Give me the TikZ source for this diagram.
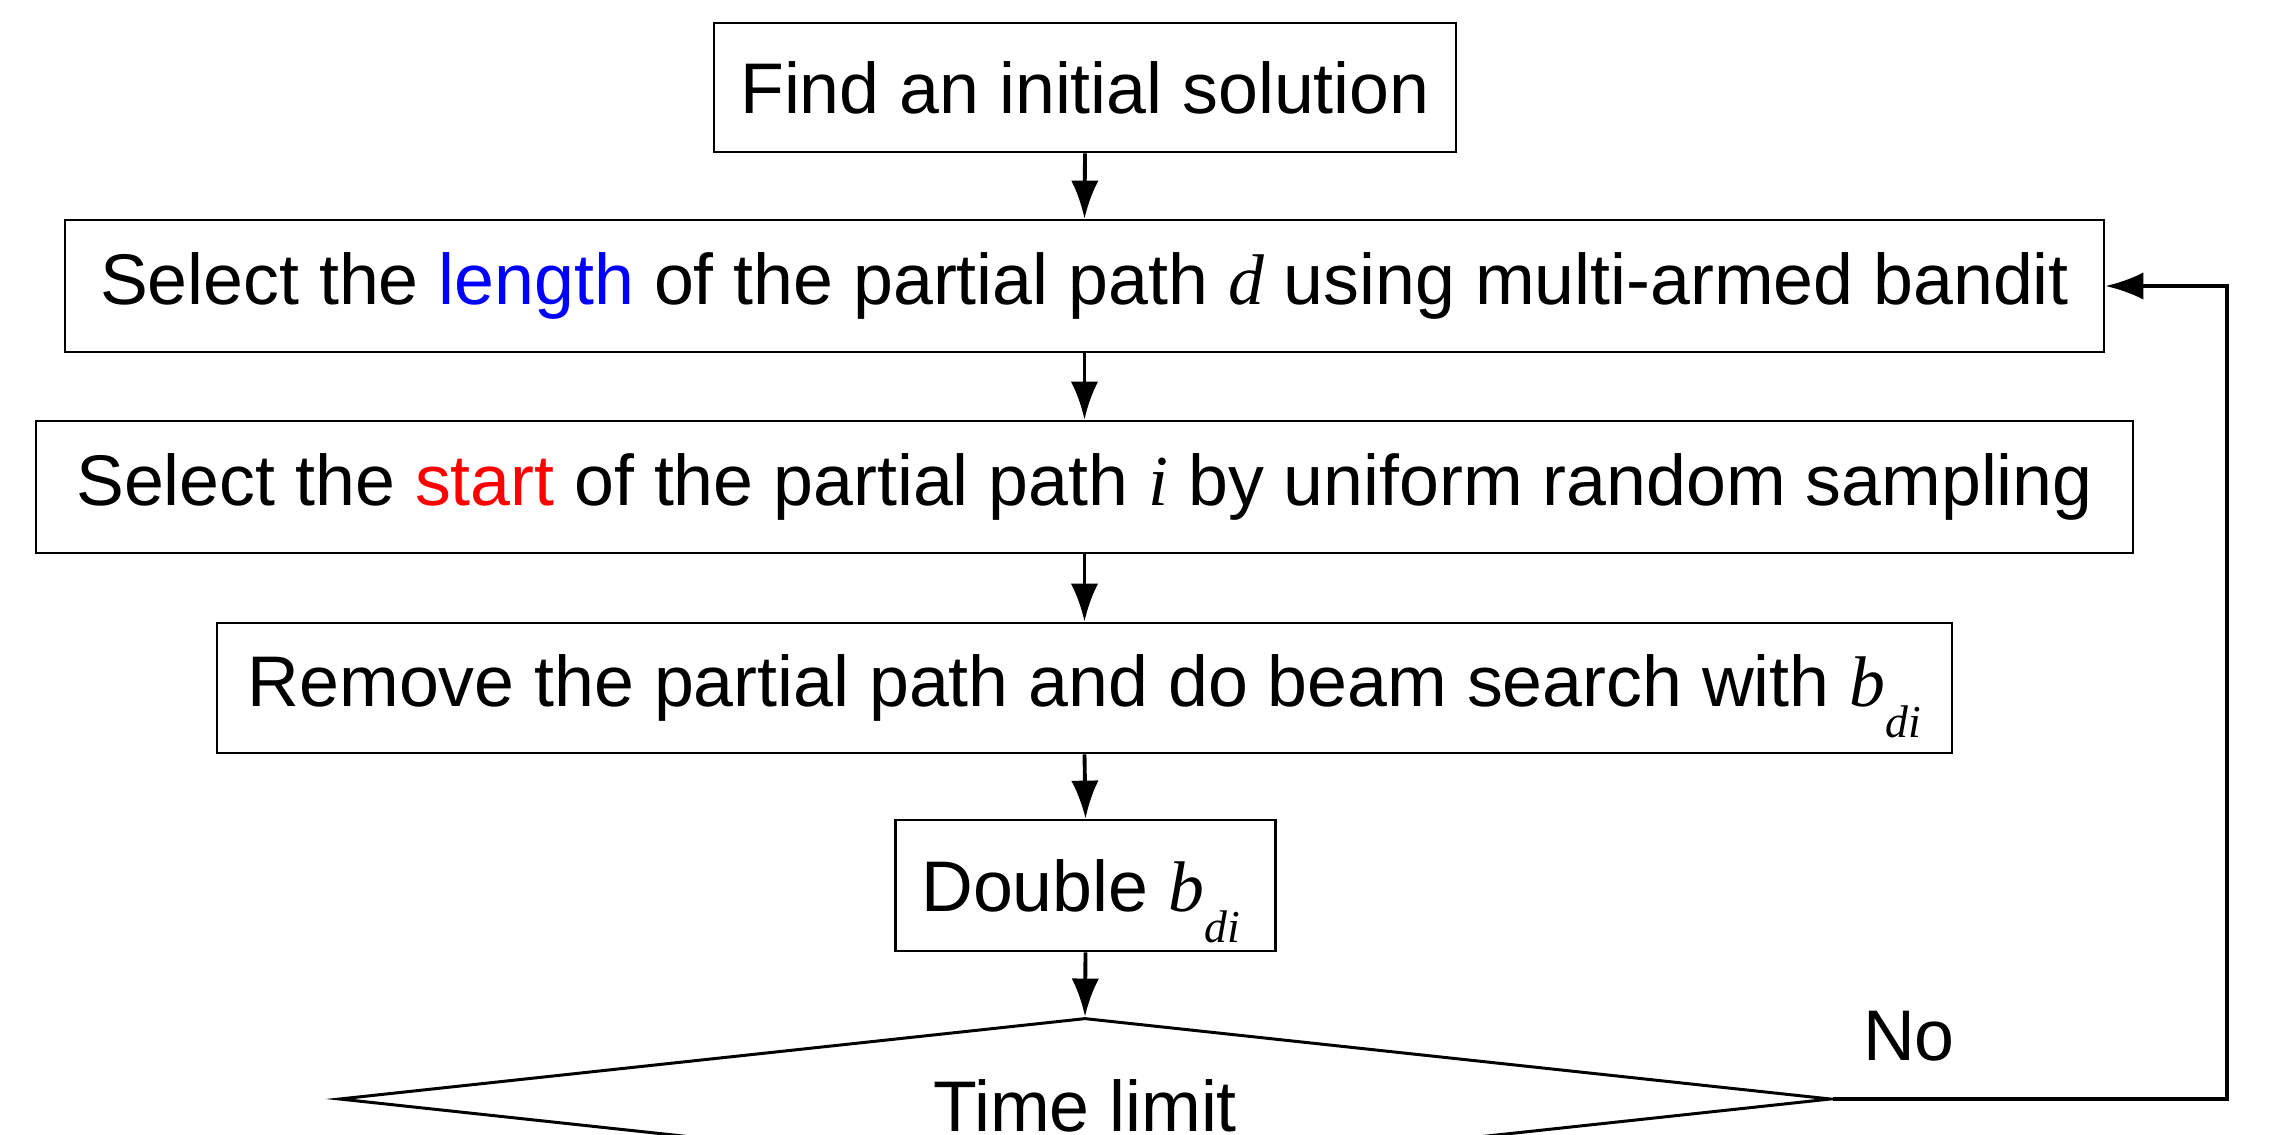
\documentclass[tikz,border=0pt]{standalone}
\usepackage{fontspec}
\setmainfont{Liberation Sans}
\newfontfamily\mathserif{Liberation Serif}
\usetikzlibrary{shapes.geometric,arrows.meta}
\newcommand{\mv}[1]{{\mathserif\itshape #1}}
\newcommand{\bdi}{\mv{b}\raisebox{-0.31cm}[0pt][0pt]{\fontsize{13pt}{15pt}\selectfont\mv{di}}}
\begin{document}
\begin{tikzpicture}[x=1cm,y=-1cm,
  every node/.style={font=\fontsize{20.4pt}{24pt}\selectfont},
  stepbox/.style={draw, line width=0.8pt, rectangle, inner sep=0pt, align=center},
  decision/.style={draw, line width=0.85pt, diamond, inner sep=0pt, minimum width=14.92cm, minimum height=1.62cm},
  arr/.style={line width=1.1pt, -{Latex[length=10.8pt,width=7.8pt]}}]
\useasboundingbox (0,0) rectangle (22.71,11.34);
\clip (0,0) rectangle (22.71,11.34);
\fill[white] (0,0) rectangle (22.71,11.34);
\node[stepbox, minimum width=7.42cm, minimum height=1.29cm] (n1) at (10.85,0.875) {Find an initial solution};
\node[stepbox, minimum width=20.39cm, minimum height=1.32cm] (n2) at (10.845,2.86) {Select the \textcolor{blue}{length} of the partial path \mv{d} using multi-armed bandit};
\node[stepbox, minimum width=20.97cm, minimum height=1.32cm] (n3) at (10.845,4.87) {Select the \textcolor{red}{start} of the partial path \mv{i} by uniform random sampling};
\node[stepbox, minimum width=17.35cm, minimum height=1.30cm] (n4) at (10.845,6.88) {Remove the partial path and do beam search with \bdi};
\node[stepbox, minimum width=3.80cm, minimum height=1.31cm] (n5) at (10.855,8.855) {Double \bdi\hspace{0.1cm}};
\node[decision] (dec) at (10.85,10.99) {};
\node (tl) at (10.85,11.06) {Time limit};
\node (no) at (19.09,10.36) {No};
\coordinate (fb) at (22.27,10.99);
\draw[arr] (n1.south) -- (n2.north);
\draw[arr] (n2.south) -- (n3.north);
\draw[arr] (n3.south) -- (n4.north);
\draw[arr] (n4.south) -- (n5.north);
\draw[arr] (n5.south) -- (dec.north);
\draw[arr] (dec.east) -- (fb) |- (n2.east);
\end{tikzpicture}
\end{document}
